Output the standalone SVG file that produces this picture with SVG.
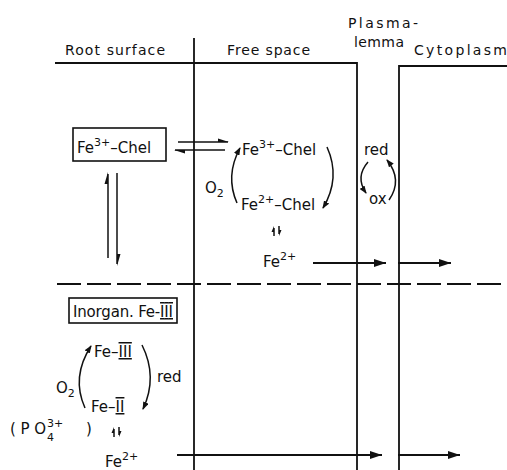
<svg xmlns="http://www.w3.org/2000/svg" width="507" height="470" viewBox="0 0 507 470">
<defs>
<style>
text{font-family:"DejaVu Sans","Liberation Sans",sans-serif;font-size:15px;fill:#111}
.hdr{font-size:14px}
.sm{font-size:11px}
.ln{stroke:#111;stroke-width:1.8;fill:none}
.thin{stroke:#111;stroke-width:1.5;fill:none}
.box{stroke:#111;stroke-width:1.6;fill:#fff}
.dash{stroke:#111;stroke-width:1.8;stroke-dasharray:24 6;fill:none}
.hd{fill:#111;stroke:none}
</style>
<marker id="ah" viewBox="0 0 12 8" refX="12" refY="4" markerWidth="12" markerHeight="8" markerUnits="userSpaceOnUse" orient="auto"><path d="M0,0 L12,4 L0,8 Z" fill="#111"/></marker>
<marker id="ch" viewBox="0 0 8 6" refX="7" refY="3" markerWidth="8" markerHeight="6" markerUnits="userSpaceOnUse" orient="auto"><path d="M0,0 L8,3 L0,6 Z" fill="#111"/></marker>
</defs>

<g id="frame">
<path class="ln" d="M55,63 H357 V470"/>
<path class="ln" d="M399,470 V66 H507"/>
<path class="ln" d="M194,38 V470"/>
<path class="dash" d="M57,284 H507"/>
</g>

<g id="headers">
<text class="hdr" x="65" y="55" textLength="100">Root surface</text>
<text class="hdr" x="227" y="55" textLength="83">Free space</text>
<text class="hdr" x="348" y="28" textLength="70">Plasma-</text>
<text class="hdr" x="354" y="47" textLength="50">lemma</text>
<text class="hdr" x="414" y="55" textLength="93">Cytoplasm</text>
</g>

<g id="fe3chel-box">
<rect class="box" x="73" y="128" width="93" height="33"/>
<text x="77" y="153">Fe<tspan class="sm" dy="-7">3+</tspan><tspan dy="7">–Chel</tspan></text>
</g>

<g id="fe3chel-free">
<text x="242" y="155">Fe<tspan class="sm" dy="-7">3+</tspan><tspan dy="7">–Chel</tspan></text>
</g>

<g id="fe2chel-free">
<text x="241" y="210">Fe<tspan class="sm" dy="-7">2+</tspan><tspan dy="7">–Chel</tspan></text>
</g>

<g id="o2-free"><text x="205" y="193">O<tspan class="sm" dy="4">2</tspan></text></g>

<g id="fe2-free"><text x="263" y="267">Fe<tspan class="sm" dy="-7">2+</tspan></text></g>

<g id="redox-pl">
<text x="364" y="155">red</text>
<text x="369" y="204">ox</text>
</g>

<g id="inorg-box">
<rect class="box" x="69" y="298" width="108" height="25"/>
<text x="73" y="317" textLength="100">Inorgan. Fe-<tspan text-decoration="overline underline">III</tspan></text>
</g>

<g id="fe-iii"><text x="94" y="357">Fe–<tspan text-decoration="overline underline">III</tspan></text></g>
<g id="fe-ii"><text x="91" y="412">Fe–<tspan text-decoration="overline underline">II</tspan></text></g>
<g id="o2-root"><text x="56" y="393">O<tspan class="sm" dy="4">2</tspan></text></g>
<g id="red-root"><text x="157" y="382">red</text></g>
<g id="po4">
<text x="10" y="434" textLength="36">(PO</text>
<text class="sm" x="47" y="441">4</text>
<text class="sm" x="47" y="427">3+</text>
<text x="86" y="434">)</text>
</g>
<g id="fe2-root"><text x="105" y="467">Fe<tspan class="sm" dy="-7">2+</tspan></text></g>

<g id="connectors">
<path class="thin" d="M178,142 H228"/>
<path class="hd" d="M229,142 L218,138.5 L218,142 Z"/>
<path class="thin" d="M175,150 H225"/>
<path class="hd" d="M174,150 L185,153.5 L185,150 Z"/>
<path class="thin" d="M108,258 V174"/>
<path class="hd" d="M108,172 L104.5,184 L108,184 Z"/>
<path class="thin" d="M117,173 V264"/>
<path class="hd" d="M117,266 L120.5,254 L117,254 Z"/>
<path class="thin" d="M237,203 Q225,176 240,148" marker-end="url(#ch)"/>
<path class="thin" d="M327,147 Q341,178 323,208" marker-end="url(#ch)"/>
<path class="thin" d="M274,236 V228"/>
<path class="hd" d="M274,226 L271.5,232 L274,232 Z"/>
<path class="thin" d="M279,226 V234"/>
<path class="hd" d="M279,236 L281.5,230 L279,230 Z"/>
<path class="ln" d="M313,263 H386" marker-end="url(#ah)"/>
<path class="ln" d="M398,263 H451" marker-end="url(#ah)"/>
<path class="thin" d="M368,162 Q355,177 366,193" marker-end="url(#ch)"/>
<path class="thin" d="M389,200 Q403,180 387,160" marker-end="url(#ch)"/>
<path class="thin" d="M85,408 Q71,377 91,346" marker-end="url(#ch)"/>
<path class="thin" d="M142,345 Q158,377 143,409" marker-end="url(#ch)"/>
<path class="thin" d="M114,437 V429"/>
<path class="hd" d="M114,427 L111.5,433 L114,433 Z"/>
<path class="thin" d="M119,427 V435"/>
<path class="hd" d="M119,437 L121.5,431 L119,431 Z"/>
<path class="ln" d="M177,455 H382" marker-end="url(#ah)"/>
<path class="ln" d="M398,455 H460" marker-end="url(#ah)"/>
</g>
</svg>
